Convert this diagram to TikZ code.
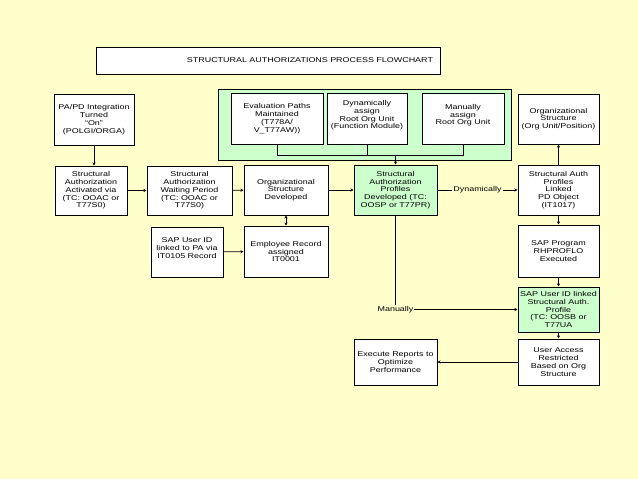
\documentclass[tikz,border=0pt]{standalone}
\usepackage{fontspec}
\setmainfont[FakeStretch=1.28]{Liberation Sans}
\usetikzlibrary{arrows.meta}

\definecolor{slidebg}{RGB}{255,255,204}
\definecolor{boxgreen}{RGB}{204,255,204}

\tikzset{
  flowbox/.style={draw, line width=1pt, fill=white, align=center, inner sep=1pt,
    font=\fontsize{7}{7.8}\selectfont},
  greenbox/.style={flowbox, fill=boxgreen},
  flowarrow/.style={-{Stealth[length=3pt,width=3pt]}, line width=0.7pt},
  flowlabel/.style={fill=slidebg, inner sep=1pt, font=\fontsize{7}{7.8}\selectfont},
}

\begin{document}
\begin{tikzpicture}[x=1pt,y=-1pt]
    \fill[slidebg] (0,0) rectangle (638,479);
    \useasboundingbox (0,0) rectangle (638,479);

    % title
    \node[flowbox, minimum width=344, minimum height=27, text width=330, align=right] (title) at (268,60.5) {STRUCTURAL AUTHORIZATIONS PROCESS FLOWCHART};

    % evaluation path group
    \node[draw, line width=1pt, fill=boxgreen, minimum width=293, minimum height=71] (pathgroup) at (364.5,124.5) {};
    \node[flowbox, minimum width=92, minimum height=51] (evp) at (277,118.5) {Evaluation Paths\\Maintained\\(T778A/\\V\_T77AW))};
    \node[flowbox, minimum width=80, minimum height=51] (dyn) at (367,118.5) {Dynamically\\assign\\Root Org Unit\\(Function Module)\\ };
    \node[flowbox, minimum width=82, minimum height=51] (man) at (463,118.5) {Manually\\assign\\Root Org Unit\\ };

    % top row
    \node[flowbox, minimum width=80, minimum height=51] (pa) at (94,119.5) {PA/PD Integration\\Turned\\``On''\\(POLGI/ORGA)};
    \node[flowbox, minimum width=81, minimum height=50] (orgpos) at (558.5,119) {Organizational\\Structure\\(Org Unit/Position)};

    % second row
    \node[flowbox, minimum width=72, minimum height=49] (act) at (91,190.5) {Structural\\Authorization\\Activated via\\(TC: OOAC or\\T77S0)};
    \node[flowbox, minimum width=85, minimum height=49] (wait) at (189.5,190.5) {Structural\\Authorization\\Waiting Period\\(TC: OOAC or\\T77S0)};
    \node[flowbox, minimum width=84, minimum height=50] (orgdev) at (286,190) {Organizational\\Structure\\Developed};
    \node[greenbox, minimum width=83, minimum height=50] (prof) at (395.5,190) {Structural\\Authorization\\Profiles\\Developed (TC:\\OOSP or T77PR)};
    \node[flowbox, minimum width=81, minimum height=50] (linked) at (558.5,190) {Structural Auth\\Profiles\\Linked\\PD Object\\(IT1017)};

    % third row
    \node[flowbox, minimum width=72, minimum height=50] (uidpa) at (187,252) {SAP User ID\\linked to PA via\\IT0105 Record\\ };
    \node[flowbox, minimum width=84, minimum height=51] (emp) at (286,251.5) {Employee Record\\assigned\\IT0001};
    \node[flowbox, minimum width=81, minimum height=52] (rhp) at (558.5,251) {SAP Program\\RHPROFLO\\Executed};

    % lower rows
    \node[greenbox, minimum width=81, minimum height=45] (uidprof) at (558.5,309.5) {SAP User ID linked\\Structural Auth.\\Profile\\(TC: OOSB or\\T77UA};
    \node[flowbox, minimum width=83, minimum height=46] (exec) at (395.5,362) {Execute Reports to\\Optimize\\Performance};
    \node[flowbox, minimum width=81, minimum height=46] (access) at (558.5,362) {User Access\\Restricted\\Based on Org\\Structure};

    % group connectors
    \coordinate (join) at (395.5,155);
    \draw[line width=0.7pt] (evp.south) -- ++(0,11) -| (man.south);
    \draw[line width=0.7pt] (dyn.south) -- (dyn.south |- join);
    \draw[flowarrow] (join) -- (prof.north);

    % flow
    \draw[flowarrow] (pa.south) -- (pa.south |- act.north);
    \draw[flowarrow] (act) -- (wait);
    \draw[flowarrow] (wait) -- (orgdev);
    \draw[flowarrow] (orgdev) -- (prof);
    \draw[flowarrow] (prof) -- node[flowlabel] {Dynamically} (linked);
    \draw[flowarrow] (linked) -- (orgpos);
    \draw[flowarrow] (linked) -- (rhp);
    \draw[flowarrow] (rhp) -- (uidprof);
    \draw[flowarrow] (prof.south) |- node[flowlabel, pos=0.5] {Manually} (uidprof.west);
    \draw[flowarrow] (uidprof) -- (access);
    \draw[flowarrow] (access) -- (exec);
    \draw[flowarrow] (uidpa) -- (emp);
    \draw[{Stealth[length=3pt,width=3pt]}-{Stealth[length=3pt,width=3pt]}, line width=0.7pt] (orgdev) -- (emp);
\end{tikzpicture}
\end{document}
